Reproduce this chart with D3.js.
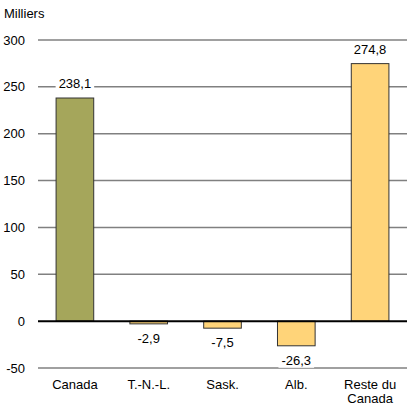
<!DOCTYPE html>
<html><head><meta charset="utf-8">
<script src="https://cdn.jsdelivr.net/npm/d3@7"></script>
<style>body{margin:0;background:#fff}text{font-family:"Liberation Sans",Arial,sans-serif}</style>
</head><body><svg id="c" width="417" height="418"></svg>
<script>
const categories = [["Canada"],["T.-N.-L."],["Sask."],["Alb."],["Reste du","Canada"]];
const values = [238.1, -2.9, -7.5, -26.3, 274.8];
const labels = ["238,1","-2,9","-7,5","-26,3","274,8"];
const colors = ["#A5A65B","#FFD479","#FFD479","#FFD479","#FFD479"];
const ticks = [-50,0,50,100,150,200,250,300];

const svg = d3.select("#c");
const x0 = 38, x1 = 407;
const fs = 13;
const y = d3.scaleLinear().domain([-50,300]).range([368,40]);
const x = d3.scaleBand().domain(d3.range(values.length)).range([x0,x1]).paddingInner(0.49).paddingOuter(0.245);

svg.append("text").attr("x",4).attr("y",18).attr("font-size",fs).text("Milliers");

svg.selectAll(".grid").data(ticks.filter(t=>t!==0)).enter().append("line")
  .attr("x1",x0).attr("x2",x1).attr("y1",d=>y(d)).attr("y2",d=>y(d))
  .attr("stroke","#808080").attr("stroke-width",1.5);
svg.selectAll(".tl").data(ticks).enter().append("text")
  .attr("x",25).attr("y",d=>y(d)+4.5).attr("text-anchor","end").attr("font-size",fs).text(d=>d);

svg.selectAll(".bar").data(values).enter().append("rect")
  .attr("x",(d,i)=>x(i)).attr("width",x.bandwidth())
  .attr("y",d=>y(Math.max(0,d))).attr("height",d=>Math.abs(y(d)-y(0)))
  .attr("fill",(d,i)=>colors[i]).attr("stroke","#333").attr("stroke-width",1);

const lg = svg.selectAll(".vl").data(values).enter().append("g");
lg.each(function(d,i){
  const g = d3.select(this);
  const cx = x(i)+x.bandwidth()/2;
  const by = d>=0 ? y(d)-10 : y(d)+19;
  const t = g.append("text").attr("x",cx).attr("y",by).attr("text-anchor","middle").attr("font-size",fs).text(labels[i]);
  const bb = t.node().getBBox();
  g.insert("rect","text").attr("x",bb.x-3).attr("y",bb.y).attr("width",bb.width+6).attr("height",bb.height).attr("fill","#fff");
});

svg.append("line").attr("x1",x0).attr("x2",x1).attr("y1",y(0)).attr("y2",y(0)).attr("stroke","#000").attr("stroke-width",2);

svg.selectAll(".cl").data(categories).enter().append("text")
  .attr("text-anchor","middle").attr("font-size",fs)
  .attr("transform",(d,i)=>`translate(${x(i)+x.bandwidth()/2},389)`)
  .each(function(d){
    d3.select(this).selectAll("tspan").data(d).enter().append("tspan")
      .attr("x",0).attr("dy",(t,j)=>j?14:0).text(t=>t);
  });
</script></body></html>
